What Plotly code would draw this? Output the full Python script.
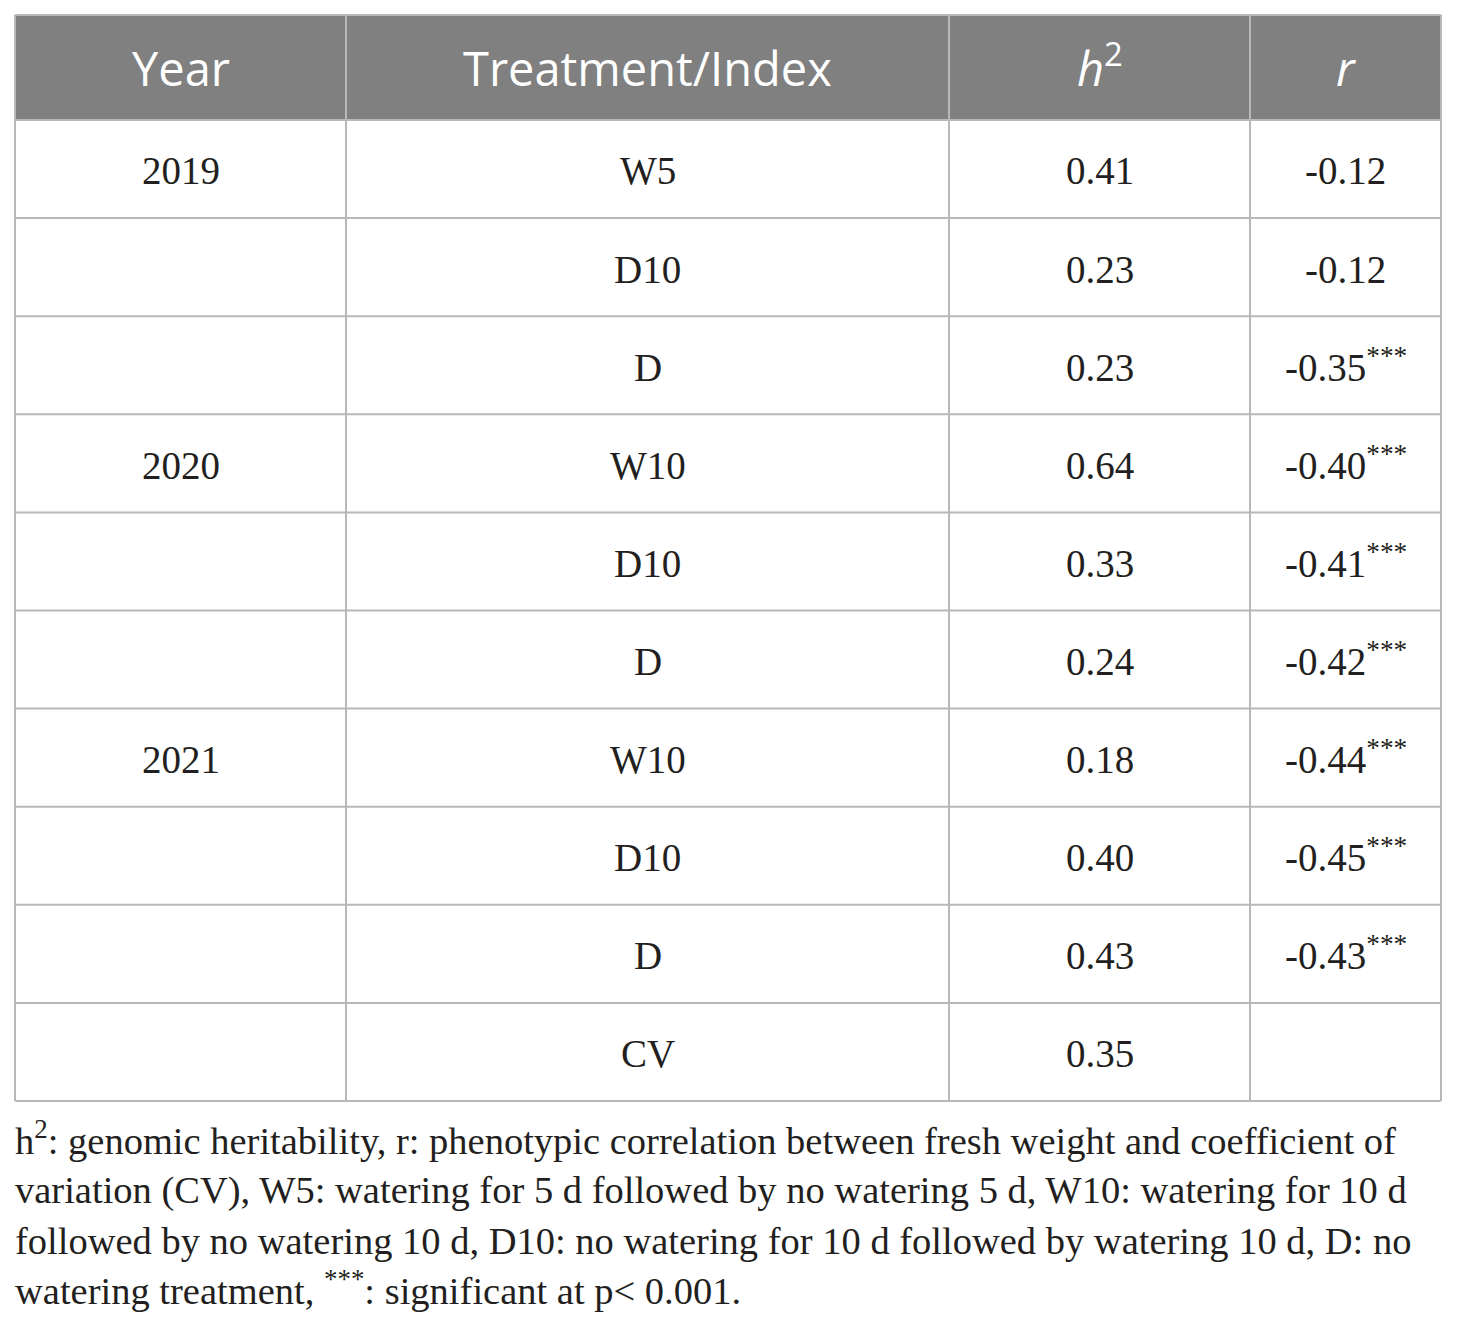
import plotly.graph_objects as go

# table contents
years = ["2019", "", "", "2020", "", "", "2021", "", "", ""]
treatments = ["W5", "D10", "D", "W10", "D10", "D", "W10", "D10", "D", "CV"]
h2_values = ["0.41", "0.23", "0.23", "0.64", "0.33", "0.24", "0.18", "0.40", "0.43", "0.35"]
r_values = ["-0.12", "-0.12", "-0.35***", "-0.40***", "-0.41***", "-0.42***",
            "-0.44***", "-0.45***", "-0.43***", ""]
headers = ["Year", "Treatment/Index", "<i>h</i><sup>2</sup>", "<i>r</i>"]

footnote_lines = [
    "h<sup>2</sup>: genomic heritability, r: phenotypic correlation between fresh weight and coefficient of",
    "variation (CV), W5: watering for 5 d followed by no watering 5 d, W10: watering for 10 d",
    "followed by no watering 10 d, D10: no watering for 10 d followed by watering 10 d, D: no",
    "watering treatment, <sup>***</sup>: significant at p< 0.001.",
]

# page geometry (the html body adds an 8px margin)
OFF = 8
W, H = 1460 - 2 * OFF, 1328 - 2 * OFF
col_widths = [331, 603, 301, 191]
left, top = 15, 15
header_h, row_h = 105, 98.1
border = "#b8b8b8"
ink = "#231f20"


def px(x):
    return (x - OFF) / W


def py(y):
    return 1 - (y - OFF) / H


def star(v):
    # superscript the significance stars
    return v.replace("***", "<sup>***</sup>")


col_edges = [left]
for w in col_widths:
    col_edges.append(col_edges[-1] + w)
n_rows = len(treatments)
row_edges = [top, top + header_h] + [top + header_h + row_h * (i + 1) for i in range(n_rows)]
right, bottom = col_edges[-1], row_edges[-1]

fig = go.Figure()

# header fill
fig.add_shape(type="rect", xref="paper", yref="paper",
              x0=px(left), x1=px(right), y0=py(top + header_h), y1=py(top),
              fillcolor="#808080", line_width=0, layer="below")

# grid lines
for x in col_edges:
    fig.add_shape(type="line", xref="paper", yref="paper",
                  x0=px(x), x1=px(x), y0=py(bottom), y1=py(top),
                  line=dict(color=border, width=2))
for y in row_edges:
    fig.add_shape(type="line", xref="paper", yref="paper",
                  x0=px(left), x1=px(right), y0=py(y), y1=py(y),
                  line=dict(color=border, width=2))

centers = [(col_edges[i] + col_edges[i + 1]) / 2 for i in range(len(col_widths))]

# header text (anchored on the box bottom so the baseline is fixed)
for c, h in zip(centers, headers):
    fig.add_annotation(text=h, xref="paper", yref="paper",
                       x=px(c), y=py(top + 87), xanchor="center", yanchor="bottom",
                       showarrow=False,
                       font=dict(family="Open Sans", size=47, color="white"))

# body cells
columns = [years, treatments, h2_values, [star(v) for v in r_values]]
for c, col in zip(centers, columns):
    for i, val in enumerate(col):
        if not val:
            continue
        base = row_edges[i + 1] + 64
        fig.add_annotation(text=val, xref="paper", yref="paper",
                           x=px(c), y=py(base + 10.5), xanchor="center", yanchor="bottom",
                           showarrow=False,
                           font=dict(family="Liberation Serif", size=39, color=ink))

# footnote
for i, line in enumerate(footnote_lines):
    base = 1154 + 50 * i
    fig.add_annotation(text=line, xref="paper", yref="paper",
                       x=px(left - 2), y=py(base + 10.3), xanchor="left", yanchor="bottom",
                       showarrow=False,
                       font=dict(family="Liberation Serif", size=38.5, color=ink))

fig.update_xaxes(visible=False)
fig.update_yaxes(visible=False)
fig.update_layout(
    width=W, height=H,
    margin=dict(l=0, r=0, t=0, b=0),
    paper_bgcolor="white", plot_bgcolor="white",
)

fig.write_html("out.html")
